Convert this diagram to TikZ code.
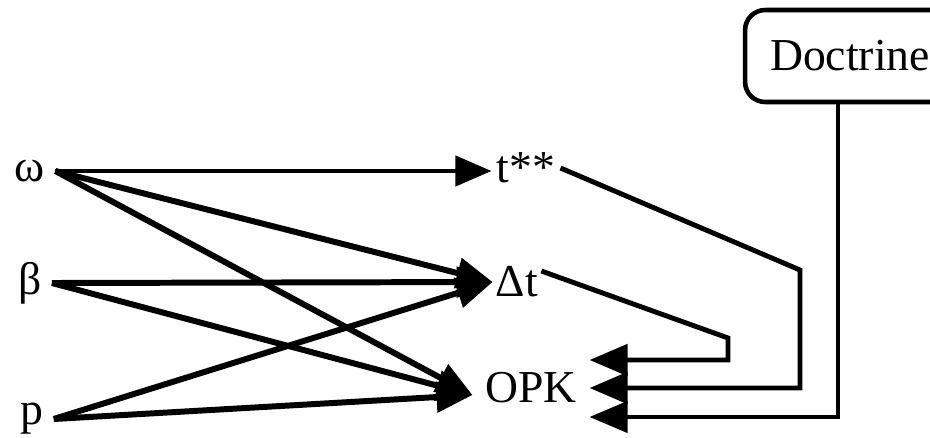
\documentclass[tikz,border=0pt]{standalone}
\usepackage{fontspec}
\setmainfont{Liberation Serif}
\usetikzlibrary{arrows.meta}
\tikzset{
lbl/.style={font=\fontsize{26}{30}\selectfont, inner sep=0.06cm},
src/.style={lbl, inner xsep=0.2cm},
feed/.style={line width=3.4pt, -{Triangle[length=0.72cm,width=0.6cm]}},
back/.style={line width=2.8pt, -{Triangle[length=0.76cm,width=0.62cm]}},
}
\begin{document}
\begin{tikzpicture}[x=0.02cm,y=-0.02cm]
\useasboundingbox (0,0) rectangle (930,437);
\clip (0,0) rectangle (930,437);
\node[src] (w) at (30,171) {ω};
\node[src] (b) at (30,283) {β};
\node[src] (p) at (32,419) {p};
\node[lbl, inner xsep=0.1cm] (t) at (526,168) {t**};
\node[lbl] (dt) at (517,282) {Δt};
\node[lbl, inner xsep=0.25cm] (opk) at (531,388) {OPK};
\node[lbl, draw, line width=2.6pt, rounded corners=0.4cm, inner xsep=0.5cm, minimum height=1.84cm] (doc) at (850,56) {Doctrine};
\draw[feed, line width=2.4pt] (w.east) -- (t.west |- w.east);
\foreach \s in {w,b,p}{
\draw[feed] (\s.east) -- (dt.west);
\draw[feed] (\s.east) -- ([yshift=-0.14cm]opk.west);
}
% back into OPK
\draw[back] (t.east) -- (800,270) |- (opk.east);
\draw[back] ([yshift=0.22cm]dt.east) -- (728,338) |- ([yshift=0.56cm]opk.east);
\draw[back, line width=2.4pt] ([xshift=-0.24cm]doc.south) |- ([yshift=-0.58cm]opk.east);
\end{tikzpicture}
\end{document}
